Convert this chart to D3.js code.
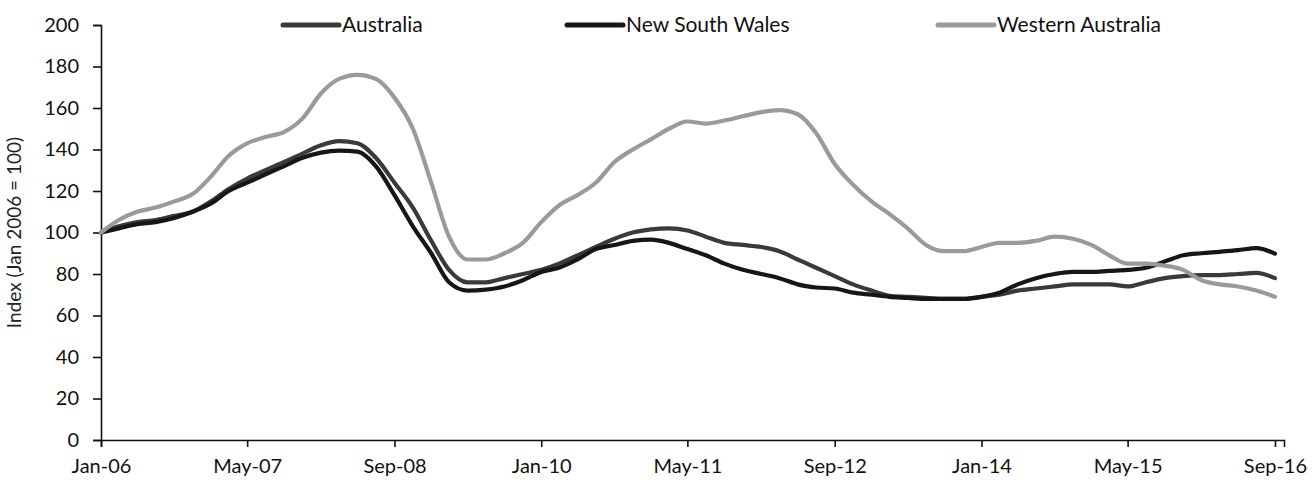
<!DOCTYPE html>
<html>
<head>
<meta charset="utf-8">
<script src="https://cdn.jsdelivr.net/npm/d3@7"></script>
<style>
  body { margin: 0; background: #fff; }
  #chartContainer { width: 1315px; height: 480px; }
</style>
</head>
<body>
<div id="chartContainer"></div>
<script>
// Months (every second month, Jan-06 to Sep-16)
const months = [
  "2006-01","2006-03","2006-05","2006-07","2006-09","2006-11",
  "2007-01","2007-03","2007-05","2007-07","2007-09","2007-11",
  "2008-01","2008-03","2008-05","2008-07","2008-09","2008-11",
  "2009-01","2009-03","2009-05","2009-07","2009-09","2009-11",
  "2010-01","2010-03","2010-05","2010-07","2010-09","2010-11",
  "2011-01","2011-03","2011-05","2011-07","2011-09","2011-11",
  "2012-01","2012-03","2012-05","2012-07","2012-09","2012-11",
  "2013-01","2013-03","2013-05","2013-07","2013-09","2013-11",
  "2014-01","2014-03","2014-05","2014-07","2014-09","2014-11",
  "2015-01","2015-03","2015-05","2015-07","2015-09","2015-11",
  "2016-01","2016-03","2016-05","2016-07","2016-09"
];

// Index values (Jan 2006 = 100)
const australia = [
  100, 103, 105, 106, 108, 110, 115, 121, 126, 130, 134, 138,
  142, 144, 143, 136, 124, 112, 96, 82, 76, 76, 78, 80,
  82, 85, 89, 93, 97, 100, 101.5, 102, 101, 98, 95, 94,
  93, 91, 87, 83, 79, 75, 72, 69.5, 69, 68.5, 68, 68,
  69, 70, 72, 73, 74, 75, 75, 75, 74, 76, 78, 79,
  79.5, 79.5, 80, 80.5, 78
];
const newSouthWales = [
  100, 102, 104, 105, 107, 110, 114, 120, 124, 128, 132, 136,
  138.5, 139.5, 139, 132, 118, 103, 90, 76, 72, 72.5, 74, 77,
  81, 83, 87, 92, 94, 96, 96.6, 95, 92, 89, 85, 82,
  80, 78, 75, 73.5, 73, 71, 70, 69, 68.5, 68, 68, 68,
  69, 71, 75, 78, 80, 81, 81, 81.5, 82, 83, 86, 89,
  90, 90.7, 91.5, 92.5, 89.8
];
const westernAustralia = [
  100, 106, 110, 112, 115, 118.5, 127, 137, 143, 146, 148.5, 155,
  167, 174, 176, 174, 165, 150, 124, 98, 87, 87, 90, 95,
  105, 113, 118, 124, 134, 140, 145, 150, 153.5, 152.5, 154, 156,
  158, 159, 157, 148, 133, 123, 115, 109, 102, 94, 91, 91,
  93, 95, 95, 96, 98, 97, 94, 89, 85, 85, 84, 82,
  77, 75, 74, 72, 69
];

// Tick labels on the x axis (every 16 months)
const tickMonths = ["2006-01","2007-05","2008-09","2010-01","2011-05","2012-09","2014-01","2015-05","2016-09"];
const yTicks = [0, 20, 40, 60, 80, 100, 120, 140, 160, 180, 200];

const seriesNames = ["Australia", "New South Wales", "Western Australia"];
const seriesValues = [australia, newSouthWales, westernAustralia];
const seriesColors = ["#3a3a3a", "#161616", "#9a9a9a"];

// Declare the chart dimensions
const width = 1315;
const height = 480;
const marginLeft = 101;
const plotRight = 1284;
const plotBottom = 440;
const plotTop = 25;

const parseMonth = d3.utcParse("%Y-%m");
const dates = months.map(parseMonth);

const x = d3.scaleUtc()
    .domain([parseMonth("2006-01"), parseMonth("2016-10")])
    .range([marginLeft, plotRight]);

const y = d3.scaleLinear()
    .domain([0, 200])
    .range([plotBottom, plotTop]);

const line = d3.line()
    .x(d => x(d.date))
    .y(d => y(d.value))
    .curve(d3.curveMonotoneX);

const svg = d3.create("svg")
    .attr("width", width)
    .attr("height", height)
    .attr("viewBox", [0, 0, width, height])
    .style("font-family", "Lato, 'Open Sans', sans-serif");

// x axis
const xAxis = svg.append("g")
    .attr("transform", `translate(0,${plotBottom})`)
    .call(d3.axisBottom(x)
        .tickValues(tickMonths.map(parseMonth))
        .tickFormat(d3.utcFormat("%b-%y"))
        .tickSizeOuter(0)
        .tickSize(7)
        .tickPadding(12));

// y axis
const yAxis = svg.append("g")
    .attr("transform", `translate(${marginLeft},0)`)
    .call(d3.axisLeft(y)
        .tickValues(yTicks)
        .tickSizeOuter(0)
        .tickSize(8)
        .tickPadding(14));

[xAxis, yAxis].forEach(g => {
    g.select(".domain").attr("stroke", "#111").attr("stroke-width", 1.6);
    g.selectAll(".tick line").attr("stroke", "#111").attr("stroke-width", 1.6);
    g.selectAll(".tick text")
        .attr("fill", "#111")
        .style("font-size", "20px")
        .style("font-family", "Lato, 'Open Sans', sans-serif");
});

// y axis title
svg.append("text")
    .attr("transform", `translate(21,${(plotTop + plotBottom) / 2}) rotate(-90)`)
    .attr("text-anchor", "middle")
    .attr("fill", "#222")
    .style("font-size", "19px")
    .text("Index (Jan 2006 = 100)");

// the three series lines
seriesValues.forEach((vals, i) => {
    const data = vals.map((v, j) => ({date: dates[j], value: v}));
    svg.append("path")
        .attr("fill", "none")
        .attr("stroke", seriesColors[i])
        .attr("stroke-width", 4.2)
        .attr("stroke-linecap", "round")
        .attr("stroke-linejoin", "round")
        .attr("d", line(data));
});

// legend along the top
const legendX = [283, 567, 938];
seriesNames.forEach((name, i) => {
    const g = svg.append("g").attr("transform", `translate(${legendX[i]},25)`);
    g.append("line")
        .attr("x1", 0).attr("x2", 56)
        .attr("y1", 0).attr("y2", 0)
        .attr("stroke", seriesColors[i])
        .attr("stroke-width", 5)
        .attr("stroke-linecap", "round");
    g.append("text")
        .attr("x", 59)
        .attr("y", 7)
        .attr("fill", "#111")
        .style("font-size", "21px")
        .text(name);
});

document.getElementById('chartContainer').appendChild(svg.node());
</script>
</body>
</html>
